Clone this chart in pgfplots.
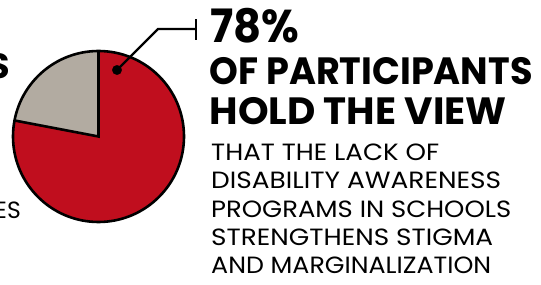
\documentclass[border=0pt]{standalone}
\usepackage{pgfplots}
\pgfplotsset{compat=1.18}
\usepackage{pgfplotstable}
\usepackage{graphicx}
\usepackage{fontspec}
\setmainfont{Poppins}
\definecolor{pieRed}{RGB}{192,14,30}
\definecolor{pieGray}{RGB}{178,171,161}
\pgfplotstableread{
label value
agree 78
other 22
}\piedata
\newcommand\bline[3]{\resizebox{#1pt}{\height}{\fontsize{#2}{#2}\selectfont\bfseries #3}}
\newcommand\lline[2]{\resizebox{#1pt}{\height}{\fontsize{23.5}{23.5}\selectfont #2}}
\begin{document}
\begin{tikzpicture}
\pgfplotstablegetelem{0}{value}\of\piedata \let\valA\pgfplotsretval
\pgfplotstablegetelem{1}{value}\of\piedata \let\valB\pgfplotsretval
\pgfmathsetmacro\angA{90-3.6*\valA}
\pgfmathsetmacro\angB{90+3.6*\valB}
\path[use as bounding box] (0,0) rectangle (541pt,284pt);
\clip (0,0) rectangle (541pt,284pt);
\begin{axis}[at={(0,0)}, anchor=south west, width=541pt, height=284pt,
  scale only axis, xmin=0, xmax=541, ymin=0, ymax=284, hide axis, clip=false]
\fill[pieRed] (axis cs:98.5,147.5) -- ++(90:85.5pt) arc[start angle=90, end angle=\angA, radius=85.5pt] -- cycle;
\fill[pieGray] (axis cs:98.5,147.5) -- ++(90:85.5pt) arc[start angle=90, end angle=\angB, radius=85.5pt] -- cycle;
\draw[line width=2.6pt] (axis cs:98.5,147.5) circle[radius=85.5pt];
\draw[line width=2.6pt, line join=miter] (axis cs:98.5,147.5) ++(90:85.5pt) -- (axis cs:98.5,147.5) -- ++(\angB:85.5pt);
\addplot[line width=2.2pt, black, mark=none] coordinates {(117,214) (158,255) (196,255)};
\addplot[only marks, mark=*, mark size=4.7pt, black] coordinates {(117,214)};
\addplot[line width=2.6pt, black, mark=none] coordinates {(196,244) (196,265)};
\node[anchor=base west, inner sep=0] at (axis cs:210.5,241) {\bline{89}{46}{78\%}};
\node[anchor=base west, inner sep=0] at (axis cs:209.5,199.5) {\bline{323}{38}{OF PARTICIPANTS}};
\node[anchor=base west, inner sep=0] at (axis cs:209.5,159.5) {\bline{297}{38}{HOLD THE VIEW}};
\node[anchor=base east, inner sep=0] at (axis cs:10,205) {\fontsize{35}{35}\selectfont\bfseries TS};
\node[anchor=base east, inner sep=0] at (axis cs:21,65) {\fontsize{23.5}{23.5}\selectfont IES};
\node[anchor=base west, inner sep=0] at (axis cs:211,123) {\lline{228}{THAT THE LACK OF}};
\node[anchor=base west, inner sep=0] at (axis cs:211,95) {\lline{290}{DISABILITY AWARENESS}};
\node[anchor=base west, inner sep=0] at (axis cs:211,66.5) {\lline{300}{PROGRAMS IN SCHOOLS}};
\node[anchor=base west, inner sep=0] at (axis cs:211,38.5) {\lline{282}{STRENGTHENS STIGMA}};
\node[anchor=base west, inner sep=0] at (axis cs:211,10.5) {\lline{280}{AND MARGINALIZATION}};
\end{axis}
\end{tikzpicture}
\end{document}
